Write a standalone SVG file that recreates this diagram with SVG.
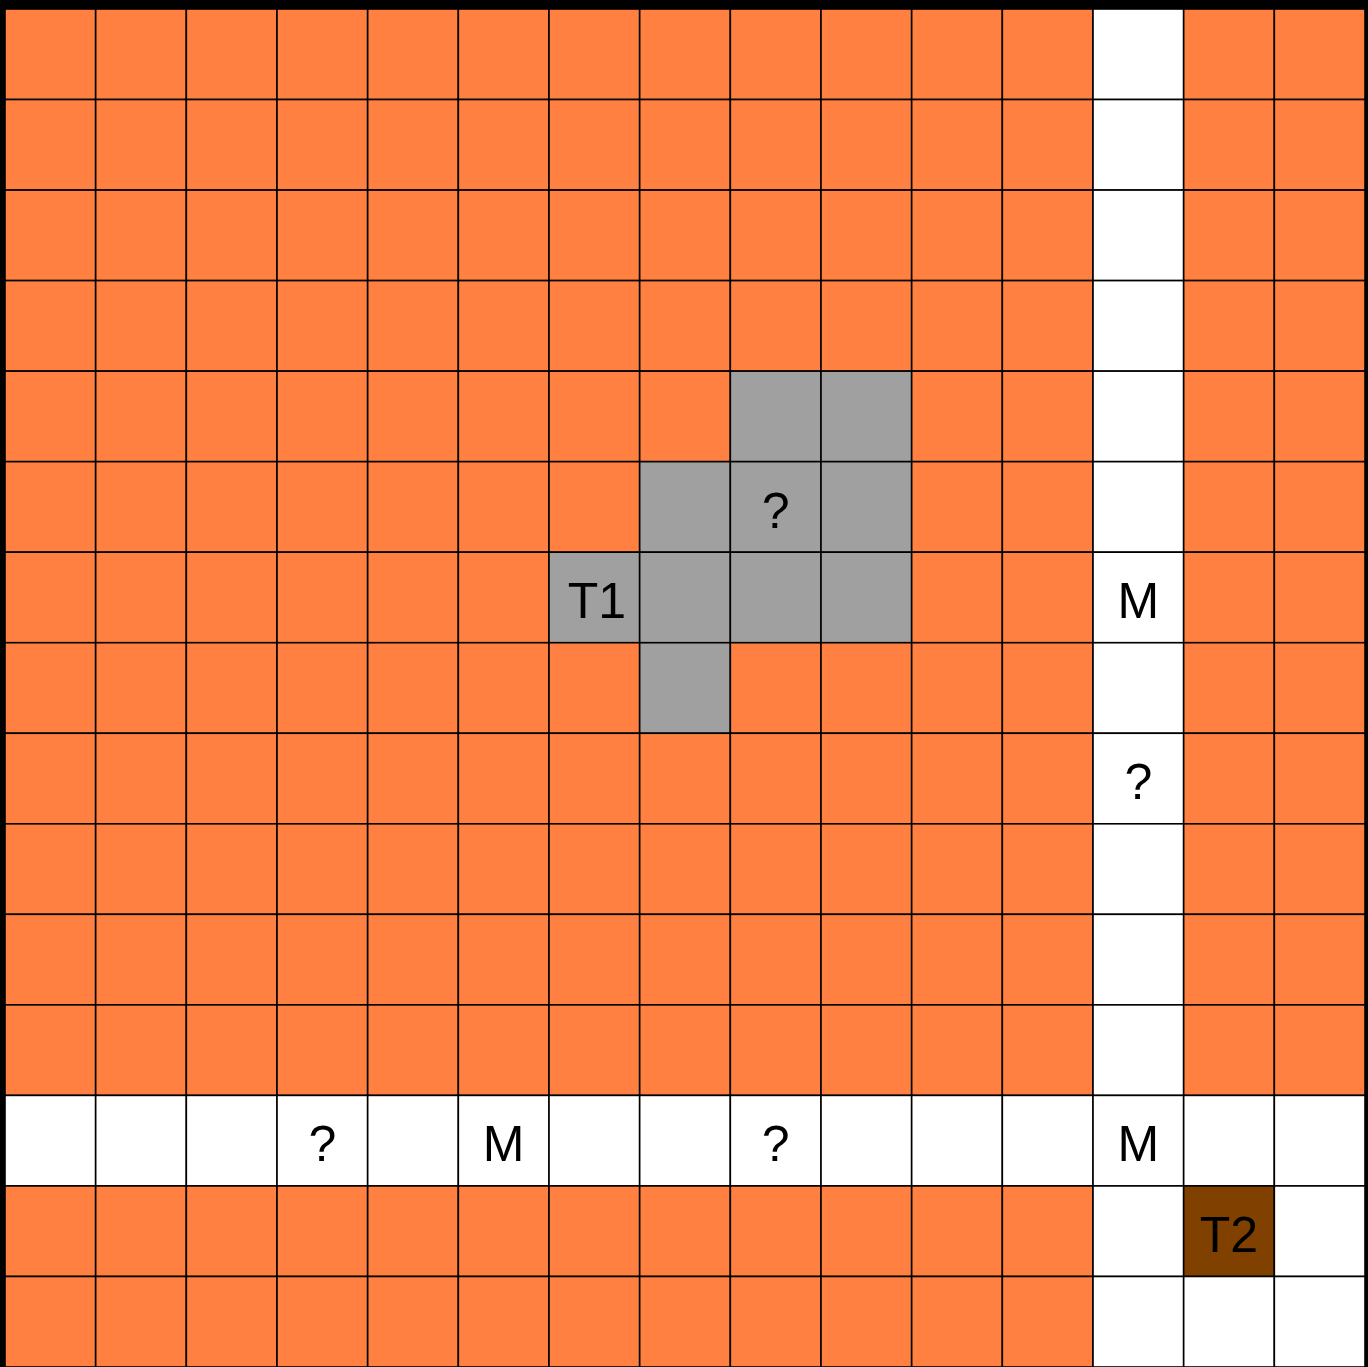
<svg xmlns="http://www.w3.org/2000/svg" width="1368" height="1367" viewBox="0 0 1368 1367">
<style>
rect.c{stroke:#000;stroke-width:1.6}
.o{fill:#FF8040}
.w{fill:#FFFFFF}
.g{fill:#A0A0A0}
.b{fill:#804000}
text{font-family:"Liberation Sans",Arial,sans-serif;font-size:50px;fill:#000;text-anchor:middle}
</style>
<rect x="0" y="0" width="1368" height="1367" fill="#000"/>
<g id="grid"></g>
<g id="cells">
<!-- rows generated: x = 5 + 90.667*c, y = 9 + 90.533*r -->
<g id="row0"><rect class="c o" x="5" y="9" width="90.67" height="90.53"/><rect class="c o" x="95.67" y="9" width="90.67" height="90.53"/><rect class="c o" x="186.33" y="9" width="90.67" height="90.53"/><rect class="c o" x="277" y="9" width="90.67" height="90.53"/><rect class="c o" x="367.67" y="9" width="90.67" height="90.53"/><rect class="c o" x="458.33" y="9" width="90.67" height="90.53"/><rect class="c o" x="549" y="9" width="90.67" height="90.53"/><rect class="c o" x="639.67" y="9" width="90.67" height="90.53"/><rect class="c o" x="730.33" y="9" width="90.67" height="90.53"/><rect class="c o" x="821" y="9" width="90.67" height="90.53"/><rect class="c o" x="911.67" y="9" width="90.67" height="90.53"/><rect class="c o" x="1002.33" y="9" width="90.67" height="90.53"/><rect class="c w" x="1093" y="9" width="90.67" height="90.53"/><rect class="c o" x="1183.67" y="9" width="90.67" height="90.53"/><rect class="c o" x="1274.33" y="9" width="90.67" height="90.53"/></g>
<g id="row1"><rect class="c o" x="5" y="99.53" width="90.67" height="90.53"/><rect class="c o" x="95.67" y="99.53" width="90.67" height="90.53"/><rect class="c o" x="186.33" y="99.53" width="90.67" height="90.53"/><rect class="c o" x="277" y="99.53" width="90.67" height="90.53"/><rect class="c o" x="367.67" y="99.53" width="90.67" height="90.53"/><rect class="c o" x="458.33" y="99.53" width="90.67" height="90.53"/><rect class="c o" x="549" y="99.53" width="90.67" height="90.53"/><rect class="c o" x="639.67" y="99.53" width="90.67" height="90.53"/><rect class="c o" x="730.33" y="99.53" width="90.67" height="90.53"/><rect class="c o" x="821" y="99.53" width="90.67" height="90.53"/><rect class="c o" x="911.67" y="99.53" width="90.67" height="90.53"/><rect class="c o" x="1002.33" y="99.53" width="90.67" height="90.53"/><rect class="c w" x="1093" y="99.53" width="90.67" height="90.53"/><rect class="c o" x="1183.67" y="99.53" width="90.67" height="90.53"/><rect class="c o" x="1274.33" y="99.53" width="90.67" height="90.53"/></g>
<g id="row2"><rect class="c o" x="5" y="190.07" width="90.67" height="90.53"/><rect class="c o" x="95.67" y="190.07" width="90.67" height="90.53"/><rect class="c o" x="186.33" y="190.07" width="90.67" height="90.53"/><rect class="c o" x="277" y="190.07" width="90.67" height="90.53"/><rect class="c o" x="367.67" y="190.07" width="90.67" height="90.53"/><rect class="c o" x="458.33" y="190.07" width="90.67" height="90.53"/><rect class="c o" x="549" y="190.07" width="90.67" height="90.53"/><rect class="c o" x="639.67" y="190.07" width="90.67" height="90.53"/><rect class="c o" x="730.33" y="190.07" width="90.67" height="90.53"/><rect class="c o" x="821" y="190.07" width="90.67" height="90.53"/><rect class="c o" x="911.67" y="190.07" width="90.67" height="90.53"/><rect class="c o" x="1002.33" y="190.07" width="90.67" height="90.53"/><rect class="c w" x="1093" y="190.07" width="90.67" height="90.53"/><rect class="c o" x="1183.67" y="190.07" width="90.67" height="90.53"/><rect class="c o" x="1274.33" y="190.07" width="90.67" height="90.53"/></g>
<g id="row3"><rect class="c o" x="5" y="280.6" width="90.67" height="90.53"/><rect class="c o" x="95.67" y="280.6" width="90.67" height="90.53"/><rect class="c o" x="186.33" y="280.6" width="90.67" height="90.53"/><rect class="c o" x="277" y="280.6" width="90.67" height="90.53"/><rect class="c o" x="367.67" y="280.6" width="90.67" height="90.53"/><rect class="c o" x="458.33" y="280.6" width="90.67" height="90.53"/><rect class="c o" x="549" y="280.6" width="90.67" height="90.53"/><rect class="c o" x="639.67" y="280.6" width="90.67" height="90.53"/><rect class="c o" x="730.33" y="280.6" width="90.67" height="90.53"/><rect class="c o" x="821" y="280.6" width="90.67" height="90.53"/><rect class="c o" x="911.67" y="280.6" width="90.67" height="90.53"/><rect class="c o" x="1002.33" y="280.6" width="90.67" height="90.53"/><rect class="c w" x="1093" y="280.6" width="90.67" height="90.53"/><rect class="c o" x="1183.67" y="280.6" width="90.67" height="90.53"/><rect class="c o" x="1274.33" y="280.6" width="90.67" height="90.53"/></g>
<g id="row4"><rect class="c o" x="5" y="371.13" width="90.67" height="90.53"/><rect class="c o" x="95.67" y="371.13" width="90.67" height="90.53"/><rect class="c o" x="186.33" y="371.13" width="90.67" height="90.53"/><rect class="c o" x="277" y="371.13" width="90.67" height="90.53"/><rect class="c o" x="367.67" y="371.13" width="90.67" height="90.53"/><rect class="c o" x="458.33" y="371.13" width="90.67" height="90.53"/><rect class="c o" x="549" y="371.13" width="90.67" height="90.53"/><rect class="c o" x="639.67" y="371.13" width="90.67" height="90.53"/><rect class="c g" x="730.33" y="371.13" width="90.67" height="90.53"/><rect class="c g" x="821" y="371.13" width="90.67" height="90.53"/><rect class="c o" x="911.67" y="371.13" width="90.67" height="90.53"/><rect class="c o" x="1002.33" y="371.13" width="90.67" height="90.53"/><rect class="c w" x="1093" y="371.13" width="90.67" height="90.53"/><rect class="c o" x="1183.67" y="371.13" width="90.67" height="90.53"/><rect class="c o" x="1274.33" y="371.13" width="90.67" height="90.53"/></g>
<g id="row5"><rect class="c o" x="5" y="461.67" width="90.67" height="90.53"/><rect class="c o" x="95.67" y="461.67" width="90.67" height="90.53"/><rect class="c o" x="186.33" y="461.67" width="90.67" height="90.53"/><rect class="c o" x="277" y="461.67" width="90.67" height="90.53"/><rect class="c o" x="367.67" y="461.67" width="90.67" height="90.53"/><rect class="c o" x="458.33" y="461.67" width="90.67" height="90.53"/><rect class="c o" x="549" y="461.67" width="90.67" height="90.53"/><rect class="c g" x="639.67" y="461.67" width="90.67" height="90.53"/><rect class="c g" x="730.33" y="461.67" width="90.67" height="90.53"/><rect class="c g" x="821" y="461.67" width="90.67" height="90.53"/><rect class="c o" x="911.67" y="461.67" width="90.67" height="90.53"/><rect class="c o" x="1002.33" y="461.67" width="90.67" height="90.53"/><rect class="c w" x="1093" y="461.67" width="90.67" height="90.53"/><rect class="c o" x="1183.67" y="461.67" width="90.67" height="90.53"/><rect class="c o" x="1274.33" y="461.67" width="90.67" height="90.53"/></g>
<g id="row6"><rect class="c o" x="5" y="552.2" width="90.67" height="90.53"/><rect class="c o" x="95.67" y="552.2" width="90.67" height="90.53"/><rect class="c o" x="186.33" y="552.2" width="90.67" height="90.53"/><rect class="c o" x="277" y="552.2" width="90.67" height="90.53"/><rect class="c o" x="367.67" y="552.2" width="90.67" height="90.53"/><rect class="c o" x="458.33" y="552.2" width="90.67" height="90.53"/><rect class="c g" x="549" y="552.2" width="90.67" height="90.53"/><rect class="c g" x="639.67" y="552.2" width="90.67" height="90.53"/><rect class="c g" x="730.33" y="552.2" width="90.67" height="90.53"/><rect class="c g" x="821" y="552.2" width="90.67" height="90.53"/><rect class="c o" x="911.67" y="552.2" width="90.67" height="90.53"/><rect class="c o" x="1002.33" y="552.2" width="90.67" height="90.53"/><rect class="c w" x="1093" y="552.2" width="90.67" height="90.53"/><rect class="c o" x="1183.67" y="552.2" width="90.67" height="90.53"/><rect class="c o" x="1274.33" y="552.2" width="90.67" height="90.53"/></g>
<g id="row7"><rect class="c o" x="5" y="642.73" width="90.67" height="90.53"/><rect class="c o" x="95.67" y="642.73" width="90.67" height="90.53"/><rect class="c o" x="186.33" y="642.73" width="90.67" height="90.53"/><rect class="c o" x="277" y="642.73" width="90.67" height="90.53"/><rect class="c o" x="367.67" y="642.73" width="90.67" height="90.53"/><rect class="c o" x="458.33" y="642.73" width="90.67" height="90.53"/><rect class="c o" x="549" y="642.73" width="90.67" height="90.53"/><rect class="c g" x="639.67" y="642.73" width="90.67" height="90.53"/><rect class="c o" x="730.33" y="642.73" width="90.67" height="90.53"/><rect class="c o" x="821" y="642.73" width="90.67" height="90.53"/><rect class="c o" x="911.67" y="642.73" width="90.67" height="90.53"/><rect class="c o" x="1002.33" y="642.73" width="90.67" height="90.53"/><rect class="c w" x="1093" y="642.73" width="90.67" height="90.53"/><rect class="c o" x="1183.67" y="642.73" width="90.67" height="90.53"/><rect class="c o" x="1274.33" y="642.73" width="90.67" height="90.53"/></g>
<g id="row8"><rect class="c o" x="5" y="733.27" width="90.67" height="90.53"/><rect class="c o" x="95.67" y="733.27" width="90.67" height="90.53"/><rect class="c o" x="186.33" y="733.27" width="90.67" height="90.53"/><rect class="c o" x="277" y="733.27" width="90.67" height="90.53"/><rect class="c o" x="367.67" y="733.27" width="90.67" height="90.53"/><rect class="c o" x="458.33" y="733.27" width="90.67" height="90.53"/><rect class="c o" x="549" y="733.27" width="90.67" height="90.53"/><rect class="c o" x="639.67" y="733.27" width="90.67" height="90.53"/><rect class="c o" x="730.33" y="733.27" width="90.67" height="90.53"/><rect class="c o" x="821" y="733.27" width="90.67" height="90.53"/><rect class="c o" x="911.67" y="733.27" width="90.67" height="90.53"/><rect class="c o" x="1002.33" y="733.27" width="90.67" height="90.53"/><rect class="c w" x="1093" y="733.27" width="90.67" height="90.53"/><rect class="c o" x="1183.67" y="733.27" width="90.67" height="90.53"/><rect class="c o" x="1274.33" y="733.27" width="90.67" height="90.53"/></g>
<g id="row9"><rect class="c o" x="5" y="823.8" width="90.67" height="90.53"/><rect class="c o" x="95.67" y="823.8" width="90.67" height="90.53"/><rect class="c o" x="186.33" y="823.8" width="90.67" height="90.53"/><rect class="c o" x="277" y="823.8" width="90.67" height="90.53"/><rect class="c o" x="367.67" y="823.8" width="90.67" height="90.53"/><rect class="c o" x="458.33" y="823.8" width="90.67" height="90.53"/><rect class="c o" x="549" y="823.8" width="90.67" height="90.53"/><rect class="c o" x="639.67" y="823.8" width="90.67" height="90.53"/><rect class="c o" x="730.33" y="823.8" width="90.67" height="90.53"/><rect class="c o" x="821" y="823.8" width="90.67" height="90.53"/><rect class="c o" x="911.67" y="823.8" width="90.67" height="90.53"/><rect class="c o" x="1002.33" y="823.8" width="90.67" height="90.53"/><rect class="c w" x="1093" y="823.8" width="90.67" height="90.53"/><rect class="c o" x="1183.67" y="823.8" width="90.67" height="90.53"/><rect class="c o" x="1274.33" y="823.8" width="90.67" height="90.53"/></g>
<g id="row10"><rect class="c o" x="5" y="914.33" width="90.67" height="90.53"/><rect class="c o" x="95.67" y="914.33" width="90.67" height="90.53"/><rect class="c o" x="186.33" y="914.33" width="90.67" height="90.53"/><rect class="c o" x="277" y="914.33" width="90.67" height="90.53"/><rect class="c o" x="367.67" y="914.33" width="90.67" height="90.53"/><rect class="c o" x="458.33" y="914.33" width="90.67" height="90.53"/><rect class="c o" x="549" y="914.33" width="90.67" height="90.53"/><rect class="c o" x="639.67" y="914.33" width="90.67" height="90.53"/><rect class="c o" x="730.33" y="914.33" width="90.67" height="90.53"/><rect class="c o" x="821" y="914.33" width="90.67" height="90.53"/><rect class="c o" x="911.67" y="914.33" width="90.67" height="90.53"/><rect class="c o" x="1002.33" y="914.33" width="90.67" height="90.53"/><rect class="c w" x="1093" y="914.33" width="90.67" height="90.53"/><rect class="c o" x="1183.67" y="914.33" width="90.67" height="90.53"/><rect class="c o" x="1274.33" y="914.33" width="90.67" height="90.53"/></g>
<g id="row11"><rect class="c o" x="5" y="1004.87" width="90.67" height="90.53"/><rect class="c o" x="95.67" y="1004.87" width="90.67" height="90.53"/><rect class="c o" x="186.33" y="1004.87" width="90.67" height="90.53"/><rect class="c o" x="277" y="1004.87" width="90.67" height="90.53"/><rect class="c o" x="367.67" y="1004.87" width="90.67" height="90.53"/><rect class="c o" x="458.33" y="1004.87" width="90.67" height="90.53"/><rect class="c o" x="549" y="1004.87" width="90.67" height="90.53"/><rect class="c o" x="639.67" y="1004.87" width="90.67" height="90.53"/><rect class="c o" x="730.33" y="1004.87" width="90.67" height="90.53"/><rect class="c o" x="821" y="1004.87" width="90.67" height="90.53"/><rect class="c o" x="911.67" y="1004.87" width="90.67" height="90.53"/><rect class="c o" x="1002.33" y="1004.87" width="90.67" height="90.53"/><rect class="c w" x="1093" y="1004.87" width="90.67" height="90.53"/><rect class="c o" x="1183.67" y="1004.87" width="90.67" height="90.53"/><rect class="c o" x="1274.33" y="1004.87" width="90.67" height="90.53"/></g>
<g id="row12"><rect class="c w" x="5" y="1095.4" width="90.67" height="90.53"/><rect class="c w" x="95.67" y="1095.4" width="90.67" height="90.53"/><rect class="c w" x="186.33" y="1095.4" width="90.67" height="90.53"/><rect class="c w" x="277" y="1095.4" width="90.67" height="90.53"/><rect class="c w" x="367.67" y="1095.4" width="90.67" height="90.53"/><rect class="c w" x="458.33" y="1095.4" width="90.67" height="90.53"/><rect class="c w" x="549" y="1095.4" width="90.67" height="90.53"/><rect class="c w" x="639.67" y="1095.4" width="90.67" height="90.53"/><rect class="c w" x="730.33" y="1095.4" width="90.67" height="90.53"/><rect class="c w" x="821" y="1095.4" width="90.67" height="90.53"/><rect class="c w" x="911.67" y="1095.4" width="90.67" height="90.53"/><rect class="c w" x="1002.33" y="1095.4" width="90.67" height="90.53"/><rect class="c w" x="1093" y="1095.4" width="90.67" height="90.53"/><rect class="c w" x="1183.67" y="1095.4" width="90.67" height="90.53"/><rect class="c w" x="1274.33" y="1095.4" width="90.67" height="90.53"/></g>
<g id="row13"><rect class="c o" x="5" y="1185.93" width="90.67" height="90.53"/><rect class="c o" x="95.67" y="1185.93" width="90.67" height="90.53"/><rect class="c o" x="186.33" y="1185.93" width="90.67" height="90.53"/><rect class="c o" x="277" y="1185.93" width="90.67" height="90.53"/><rect class="c o" x="367.67" y="1185.93" width="90.67" height="90.53"/><rect class="c o" x="458.33" y="1185.93" width="90.67" height="90.53"/><rect class="c o" x="549" y="1185.93" width="90.67" height="90.53"/><rect class="c o" x="639.67" y="1185.93" width="90.67" height="90.53"/><rect class="c o" x="730.33" y="1185.93" width="90.67" height="90.53"/><rect class="c o" x="821" y="1185.93" width="90.67" height="90.53"/><rect class="c o" x="911.67" y="1185.93" width="90.67" height="90.53"/><rect class="c o" x="1002.33" y="1185.93" width="90.67" height="90.53"/><rect class="c w" x="1093" y="1185.93" width="90.67" height="90.53"/><rect class="c b" x="1183.67" y="1185.93" width="90.67" height="90.53"/><rect class="c w" x="1274.33" y="1185.93" width="90.67" height="90.53"/></g>
<g id="row14"><rect class="c o" x="5" y="1276.47" width="90.67" height="90.53"/><rect class="c o" x="95.67" y="1276.47" width="90.67" height="90.53"/><rect class="c o" x="186.33" y="1276.47" width="90.67" height="90.53"/><rect class="c o" x="277" y="1276.47" width="90.67" height="90.53"/><rect class="c o" x="367.67" y="1276.47" width="90.67" height="90.53"/><rect class="c o" x="458.33" y="1276.47" width="90.67" height="90.53"/><rect class="c o" x="549" y="1276.47" width="90.67" height="90.53"/><rect class="c o" x="639.67" y="1276.47" width="90.67" height="90.53"/><rect class="c o" x="730.33" y="1276.47" width="90.67" height="90.53"/><rect class="c o" x="821" y="1276.47" width="90.67" height="90.53"/><rect class="c o" x="911.67" y="1276.47" width="90.67" height="90.53"/><rect class="c o" x="1002.33" y="1276.47" width="90.67" height="90.53"/><rect class="c w" x="1093" y="1276.47" width="90.67" height="90.53"/><rect class="c w" x="1183.67" y="1276.47" width="90.67" height="90.53"/><rect class="c w" x="1274.33" y="1276.47" width="90.67" height="90.53"/></g>
</g>
<g id="labels">
<text x="775.7" y="527.7">?</text>
<text x="597" y="618.2">T1</text>
<text x="1138.3" y="618.2">M</text>
<text x="1138.3" y="799.3">?</text>
<text x="322.3" y="1161.4">?</text>
<text x="503.7" y="1161.4">M</text>
<text x="775.7" y="1161.4">?</text>
<text x="1138.3" y="1161.4">M</text>
<text x="1229" y="1251.9">T2</text>
</g>
</svg>
